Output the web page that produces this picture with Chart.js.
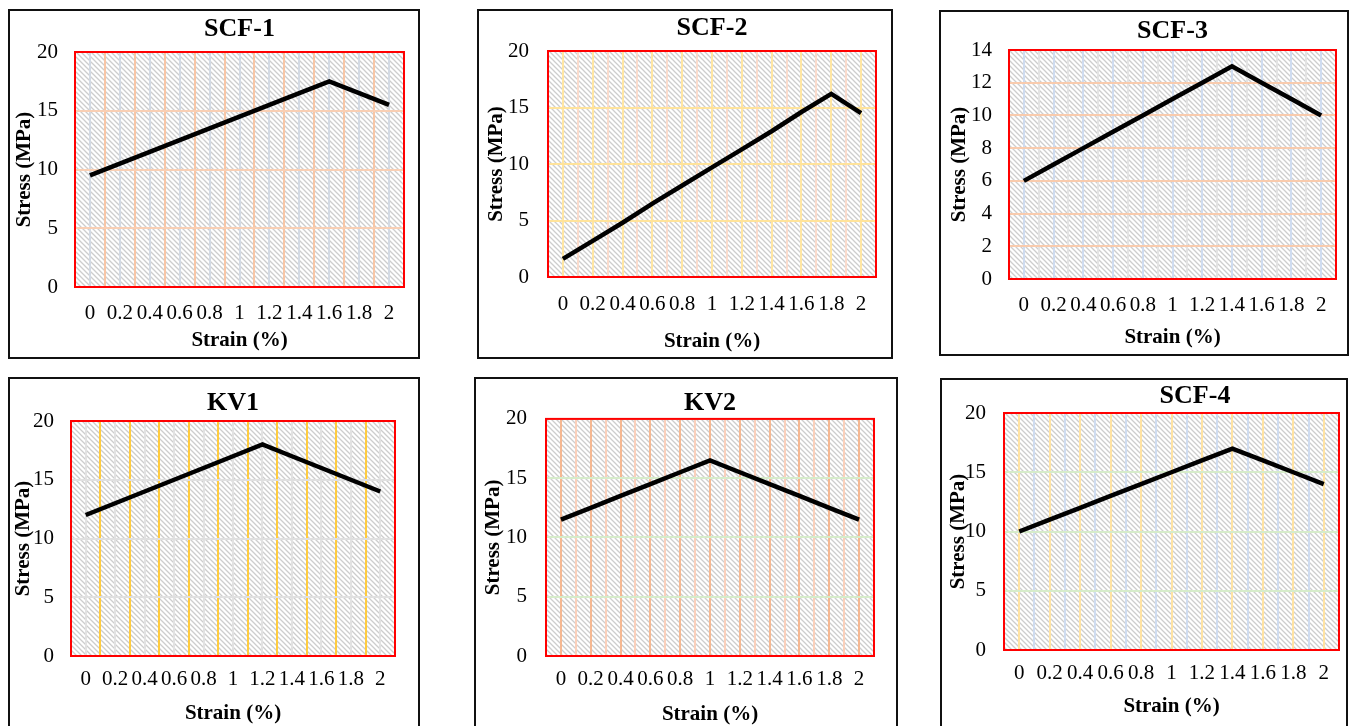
<!DOCTYPE html>
<html lang="en">
<head>
    <meta charset="UTF-8">
    <script src="https://cdn.jsdelivr.net/npm/chart.js"></script>
    <title>Stress - Strain</title>
    <style>
        body { margin: 0; width: 1353px; height: 726px; overflow: hidden; background: #fff; }
        .box { position: absolute; border: 2px solid #111; box-sizing: border-box; background: #fff; }
        .box canvas { display: block; }
    </style>
</head>
<body>
    <div class="box" id="b0"><canvas id="c0"></canvas></div>
    <div class="box" id="b1"><canvas id="c1"></canvas></div>
    <div class="box" id="b2"><canvas id="c2"></canvas></div>
    <div class="box" id="b3"><canvas id="c3"></canvas></div>
    <div class="box" id="b4"><canvas id="c4"></canvas></div>
    <div class="box" id="b5"><canvas id="c5"></canvas></div>

    <script>
        const strain = ['0', '0.2', '0.4', '0.6', '0.8', '1', '1.2', '1.4', '1.6', '1.8', '2']

        const scf1Stress = [9.5, 10.5, 11.5, 12.5, 13.5, 14.5, 15.5, 16.5, 17.5, 16.5, 15.5]
        const scf2Stress = [1.6, 3.2, 4.8, 6.5, 8.1, 9.7, 11.3, 12.9, 14.6, 16.2, 14.5]
        const scf3Stress = [6, 7, 8, 9, 10, 11, 12, 13, 12, 11, 10]
        const kv1Stress = [12, 13, 14, 15, 16, 17, 18, 17, 16, 15, 14]
        const kv2Stress = [11.5, 12.5, 13.5, 14.5, 15.5, 16.5, 15.5, 14.5, 13.5, 12.5, 11.5]
        const scf4Stress = [10, 11, 12, 13, 14, 15, 16, 17, 16, 15, 14]

        const titles = ['SCF-1', 'SCF-2', 'SCF-3', 'KV1', 'KV2', 'SCF-4']
        const series = [scf1Stress, scf2Stress, scf3Stress, kv1Stress, kv2Stress, scf4Stress]
        const yMax = [20, 20, 14, 20, 20, 20]
        const yStep = [5, 5, 2, 5, 5, 5]

        // box: outer left, top, right, bottom | plot: left, top, right, bottom
        const panels = [
            { box: [8, 9, 420, 359], plot: [75, 52, 404, 287], titleY: 29, yTitleX: 25, yTickPad: 17, xTickPad: 14.5, xTitleY: 340.7,
              hGrid: '#f9cfb4', vMain: '#f8c6a6', vMinor: '#d3dae4' },
            { box: [477, 9, 893, 359], plot: [548, 51, 876, 277], titleY: 28, yTitleX: 496.7, yTickPad: 19, xTickPad: 15, xTitleY: 341.7,
              hGrid: '#ffe39a', vMain: '#fadbcc', vMinor: '#ffe6a3' },
            { box: [939, 10, 1349, 356], plot: [1009, 50, 1336, 279], titleY: 31.7, yTitleX: 960, yTickPad: 17, xTickPad: 14.5, xTitleY: 337.3,
              hGrid: '#f9cbad', vMain: '#e3e3e3', vMinor: '#cfdcf0' },
            { box: [8, 377, 420, 740], plot: [71, 421, 395, 656], titleY: 403.3, yTitleX: 23.3, yTickPad: 17, xTickPad: 11.8, xTitleY: 713.3,
              hGrid: '#e0e0e0', vMain: '#ffcc40', vMinor: '#e2e2e2' },
            { box: [474, 377, 898, 740], plot: [546, 418, 874, 656], titleY: 403.3, yTitleX: 493.3, yTickPad: 19, xTickPad: 11.8, xTitleY: 714.3,
              hGrid: '#d6ecca', vMain: '#fad0bb', vMinor: '#f5b892' },
            { box: [940, 378, 1348, 740], plot: [1004, 413, 1339, 650], titleY: 396.7, yTitleX: 958.3, yTickPad: 18, xTickPad: 11.2, xTitleY: 706.7,
              hGrid: '#d6ecca', vMain: '#cfdcf0', vMinor: '#ffe3a3', titleShift: 23.5 }
        ]

        Chart.defaults.font.family = '"Liberation Serif", "Times New Roman", serif'
        Chart.defaults.color = '#000'

        // diagonal hatch used as the plot background
        const tile = document.createElement('canvas')
        tile.width = 5
        tile.height = 5
        const tctx = tile.getContext('2d')
        tctx.fillStyle = '#fff'
        tctx.fillRect(0, 0, 5, 5)
        tctx.strokeStyle = '#cdcdcd'
        tctx.lineWidth = 1.3
        tctx.beginPath()
        tctx.moveTo(-1, -1); tctx.lineTo(6, 6)
        tctx.moveTo(-1, 4); tctx.lineTo(1, 6)
        tctx.moveTo(4, -1); tctx.lineTo(6, 1)
        tctx.stroke()

        const makeChart = (i) => {
            const p = panels[i]
            const [bx0, by0, bx1, by1] = p.box
            const ix = bx0 + 2, iy = by0 + 2
            const w = bx1 - bx0 - 4, h = by1 - by0 - 4
            const pl = p.plot[0] - ix, pt = p.plot[1] - iy, pr = p.plot[2] - ix, pb = p.plot[3] - iy

            const box = document.getElementById('b' + i)
            box.style.left = bx0 + 'px'
            box.style.top = by0 + 'px'
            box.style.width = (bx1 - bx0) + 'px'
            box.style.height = (by1 - by0) + 'px'

            const canvas = document.getElementById('c' + i)
            canvas.width = w
            canvas.height = h

            const titleTop = p.titleY - iy - 15.6

            const panelPlugin = {
                id: 'panel' + i,
                afterLayout(chart) {
                    if (p.titleShift && chart.titleBlock) {
                        chart.titleBlock.left += p.titleShift
                        chart.titleBlock.right += p.titleShift
                    }
                },
                beforeDraw(chart) {
                    const a = chart.chartArea
                    const ctx = chart.ctx
                    ctx.save()
                    ctx.fillStyle = ctx.createPattern(tile, 'repeat')
                    ctx.fillRect(a.left, a.top, a.right - a.left, a.bottom - a.top)
                    ctx.restore()
                },
                afterDraw(chart) {
                    const a = chart.chartArea
                    const ctx = chart.ctx
                    ctx.save()
                    ctx.strokeStyle = '#ff0000'
                    ctx.lineWidth = 2
                    ctx.strokeRect(a.left, a.top, a.right - a.left, a.bottom - a.top)
                    ctx.restore()
                }
            }

            return new Chart(canvas, {
                type: 'line',
                data: {
                    labels: strain,
                    datasets: [{
                        data: series[i],
                        borderColor: '#000',
                        borderWidth: 4.5,
                        pointRadius: 0,
                        tension: 0,
                        xAxisID: 'x'
                    }]
                },
                options: {
                    responsive: false,
                    animation: false,
                    layout: { padding: { left: 0, right: w - pr, top: 0, bottom: 0 } },
                    plugins: {
                        legend: { display: false },
                        tooltip: { enabled: false },
                        title: {
                            display: true,
                            text: titles[i],
                            fullSize: false,
                            color: '#000',
                            font: { size: 26, weight: 'bold' },
                            padding: { top: titleTop, bottom: Math.max(0, pt - titleTop - 31.2) }
                        }
                    },
                    scales: {
                        x: {
                            type: 'category',
                            offset: true,
                            grid: { offset: true, color: p.vMain, lineWidth: 2, drawTicks: false },
                            border: { display: false },
                            ticks: { padding: p.xTickPad - 0.6, font: { size: 21 }, maxRotation: 0, autoSkip: false },
                            title: { display: true, text: 'Strain (%)', font: { size: 21, weight: 'bold' }, padding: { top: 0, bottom: h - (p.xTitleY - iy) - 12.6 } },
                            afterFit: (s) => { s.height = h - pb }
                        },
                        x2: {
                            type: 'category',
                            labels: strain,
                            position: 'bottom',
                            offset: true,
                            grid: { offset: false, color: p.vMinor, lineWidth: 2, drawTicks: false },
                            border: { display: false },
                            ticks: { display: false },
                            afterFit: (s) => { s.height = 0 }
                        },
                        y: {
                            min: 0,
                            max: yMax[i],
                            grid: { color: p.hGrid, lineWidth: 2, drawTicks: false },
                            border: { display: false },
                            ticks: { stepSize: yStep[i], padding: p.yTickPad, font: { size: 21 } },
                            title: { display: true, text: 'Stress (MPa)', font: { size: 21, weight: 'bold' }, padding: { top: p.yTitleX - ix - 12.6, bottom: 0 } },
                            afterFit: (s) => { s.width = pl }
                        }
                    }
                },
                plugins: [panelPlugin]
            })
        }

        const charts = panels.map((p, i) => makeChart(i))
    </script>
</body>
</html>
